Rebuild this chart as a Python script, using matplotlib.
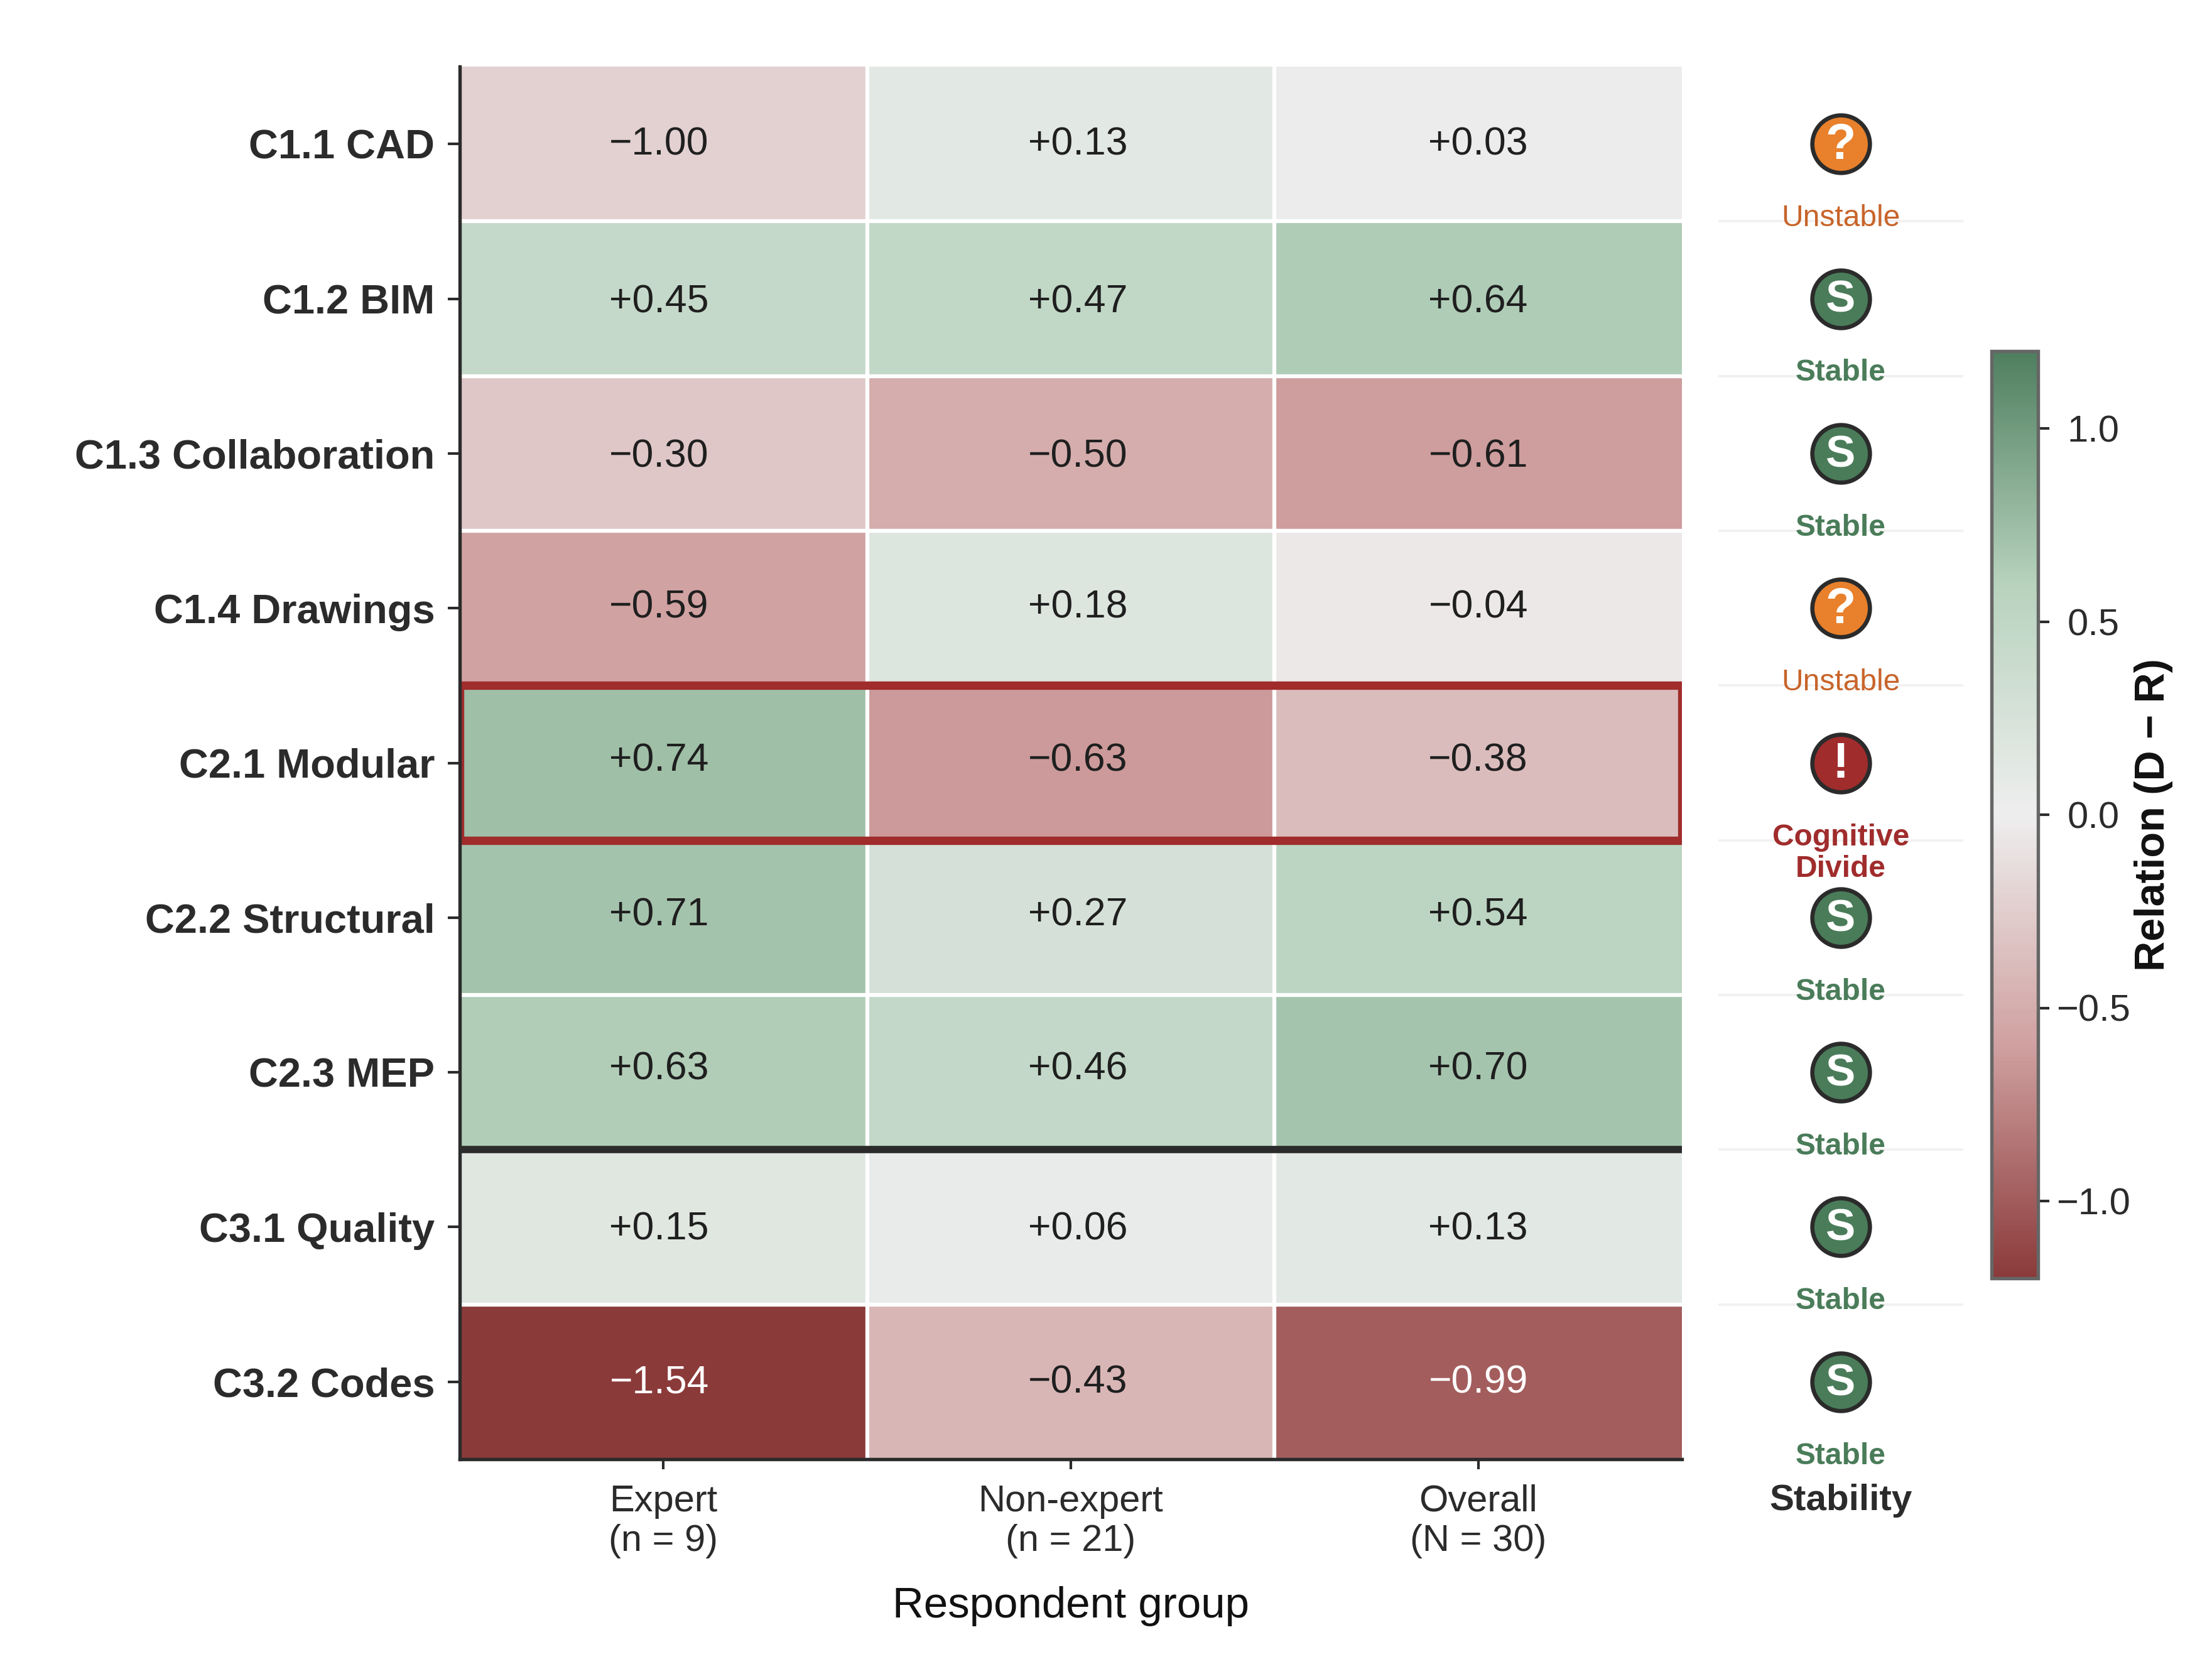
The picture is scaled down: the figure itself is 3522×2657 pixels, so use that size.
import numpy as np
import matplotlib
matplotlib.use("Agg")
import matplotlib.pyplot as plt
from matplotlib.colors import LinearSegmentedColormap
from matplotlib.patches import Rectangle

plt.rcParams['font.family'] = ['Liberation Sans', 'DejaVu Sans']

# ---- data ----
constructs = ["C1.1 CAD", "C1.2 BIM", "C1.3 Collaboration", "C1.4 Drawings", "C2.1 Modular",
              "C2.2 Structural", "C2.3 MEP", "C3.1 Quality", "C3.2 Codes"]
groups = ["Expert\n(n = 9)", "Non-expert\n(n = 21)", "Overall\n(N = 30)"]
expert = [-1.00, 0.45, -0.30, -0.59, 0.74, 0.71, 0.63, 0.15, -1.54]
non_expert = [0.13, 0.47, -0.50, 0.18, -0.63, 0.27, 0.46, 0.06, -0.43]
overall = [0.03, 0.64, -0.61, -0.04, -0.38, 0.54, 0.70, 0.13, -0.99]
# The reference paints the C1.1 Expert cell much lighter than its printed value
expert_shade = [-0.22, 0.45, -0.30, -0.59, 0.74, 0.71, 0.63, 0.15, -1.54]
stability = ["Unstable", "Stable", "Stable", "Unstable", "Cognitive\nDivide",
             "Stable", "Stable", "Stable", "Stable"]
cbar_ticks = [-1.0, -0.5, 0.0, 0.5, 1.0]

# ---- style ----
W, H = 3522, 2657
DPI = 300
INK = "#2b2b2b"
cmap = LinearSegmentedColormap.from_list(
    "rg", [(0, "#8B3A3A"), (0.25, "#D0A0A0"), (0.5, "#EEEEEE"), (0.75, "#B7D2BD"), (1, "#4F7F5F")])
status_style = {
    "Unstable": dict(fill="#E8802C", text="#C8642A", glyph="?", weight="normal", size=19, drop=0.98),
    "Stable": dict(fill="#4A7C59", text="#4A7C59", glyph="S", weight="bold", size=17, drop=0.98),
    "Cognitive\nDivide": dict(fill="#A02C2C", text="#A02C2C", glyph="!", weight="bold", size=19, drop=1.085),
}
row_nudge = [0.5, 2.5, 2.5, -0.5, -1.5, -1.5, -2.5, 1.5, 0.5]
col_nudge = [-3, 5, 0]


def axes_px(x0, y0, x1, y1):
    return fig.add_axes([x0 / W, 1 - y1 / H, (x1 - x0) / W, (y1 - y0) / H])


fig = plt.figure(figsize=(W / DPI, H / DPI), dpi=DPI, facecolor="white")
ax = axes_px(732, 106, 2678, 2323)

shades = np.array([expert_shade, non_expert, overall]).T
printed = np.array([expert, non_expert, overall]).T
n_rows, n_cols = shades.shape
mesh = ax.pcolormesh(np.arange(n_cols + 1), np.arange(n_rows + 1), shades, cmap=cmap,
                     vmin=-1.2, vmax=1.2)
ax.set_xlim(0, n_cols)
ax.set_ylim(n_rows, 0)
for c in range(1, n_cols):
    ax.axvline(c, color="white", linewidth=1.5, zorder=2)
for r in range(1, n_rows):
    ax.axhline(r, color="white", linewidth=1.5, zorder=2)

for r in range(n_rows):
    for c in range(n_cols):
        v = printed[r, c]
        label = ("+" if v > 0 else "\u2212") + f"{abs(v):.2f}"
        ax.annotate(label, (c + 0.5, r + 0.5),
                    xytext=(col_nudge[c] * 0.54, -row_nudge[r] * 0.54), textcoords="offset points",
                    ha="center", va="center", fontsize=15,
                    color="white" if shades[r, c] < -0.9 else "#1f1f1f")

divide_row = stability.index("Cognitive\nDivide")
ax.add_patch(Rectangle((0, divide_row), n_cols, 1, fill=False, edgecolor="#A02C2C", linewidth=3.2, zorder=4))
ax.axhline(constructs.index("C3.1 Quality"), color=INK, linewidth=2.8, zorder=5)

ax.set_xticks(np.arange(n_cols) + 0.5, groups, fontsize=14.3, color=INK, linespacing=1.2)
ax.set_yticks(np.arange(n_rows) + 0.5, constructs, fontsize=15.6, fontweight="bold", color=INK)
ax.tick_params(axis="x", length=3.8, width=1.0, color=INK, pad=5.7)
ax.tick_params(axis="y", length=4.5, width=1.0, color=INK, pad=5)
ax.set_xlabel("Respondent group", fontsize=16.6, color="#111111", labelpad=10.5)
for side in ["top", "right"]:
    ax.spines[side].set_visible(False)
for side in ["left", "bottom"]:
    ax.spines[side].set_color(INK)
    ax.spines[side].set_linewidth(1.3)
    ax.spines[side].set_zorder(6)

# stability column
sx = axes_px(2736, 106, 3126, 2323)
sx.set_xlim(0, 1)
sx.set_ylim(n_rows, 0)
sx.axis("off")
for r, status in enumerate(stability):
    st = status_style[status]
    if r < n_rows - 1:
        sx.plot([0, 1], [r + 1, r + 1], color="#f1f1f1", linewidth=0.9, zorder=1)
    sx.scatter(0.5, r + 0.5, s=484, color=st["fill"], edgecolor=INK, linewidth=1.6, zorder=3)
    sx.annotate(st["glyph"], (0.5, r + 0.5), xytext=(0, -0.8), textcoords="offset points",
                color="white", fontsize=st["size"], fontweight="bold",
                ha="center", va="center", zorder=4)
    sx.text(0.5, r + st["drop"], status, color=st["text"], fontsize=11.5, fontweight=st["weight"],
            ha="center", va="center", linespacing=1.15, zorder=2)
sx.text(0.5, -(2389 - 2323) / (2323 - 106), "Stability", transform=sx.transAxes, fontsize=14,
        fontweight="bold", color=INK, ha="center", va="center", clip_on=False)

# colour bar
cax = axes_px(3171, 559, 3245, 2035)
cbar = fig.colorbar(mesh, cax=cax)
cbar.set_ticks(cbar_ticks, labels=[f"{t:.1f}".replace("-", "\u2212") for t in cbar_ticks])
cbar.ax.tick_params(labelsize=14.3, length=4.3, width=1.0, color=INK, labelcolor=INK, pad=16.8)
for tick_label in cbar.ax.get_yticklabels():
    tick_label.set_ha("center")
cbar.outline.set_edgecolor("#666666")
cbar.outline.set_linewidth(1.3)
cbar.set_label("Relation (D \u2212 R)", fontsize=16, fontweight="bold", color="#111111")
cbar.ax.yaxis.set_label_coords((3398 - 3171) / (3245 - 3171), 0.5)

fig.savefig("out.png", dpi=DPI, facecolor="white")
